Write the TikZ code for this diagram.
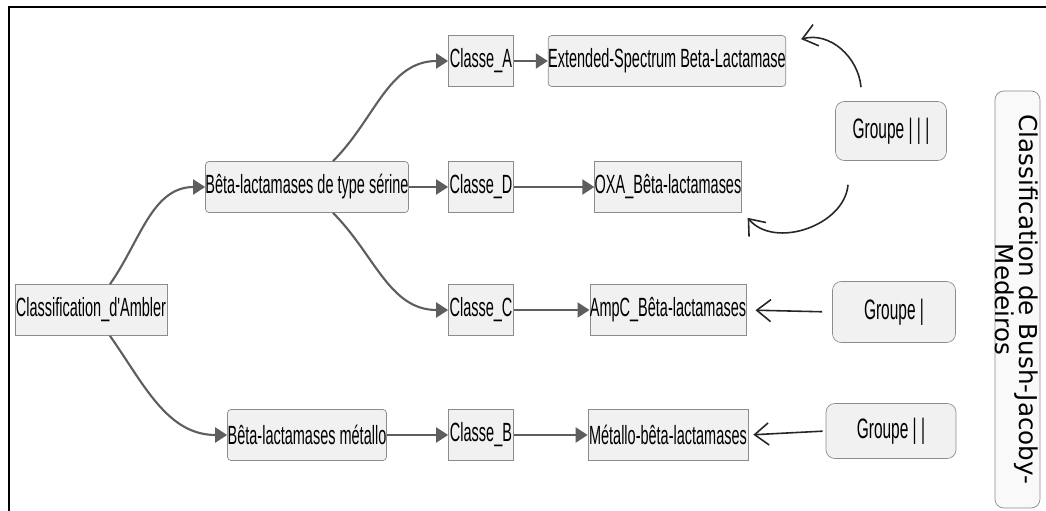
\documentclass[tikz,border=0pt]{standalone}
\usepackage{fontspec}
\setmainfont{Liberation Sans}[FakeStretch=0.55, Ligatures=TeXOff]
\newfontfamily\bjmfont{DejaVu Sans}[Ligatures=TeXOff]
\usepackage{tikz}
\usetikzlibrary{arrows.meta}
\definecolor{boxfill}{HTML}{F1F1F1}
\definecolor{boxline}{HTML}{8C8C8C}
\definecolor{arrowgray}{HTML}{5E5E5E}

\begin{document}
\begin{tikzpicture}[x=0.02cm, y=0.02cm,
            box/.style={draw=boxline, fill=boxfill, rectangle, minimum height=1.02cm, inner xsep=0pt, font=\fontsize{15}{17}\selectfont},
            rbox/.style={box, rounded corners=2pt},
            grp/.style={box, rounded corners=5pt, font=\fontsize{16}{18}\selectfont},
            flow/.style={-{Triangle[length=0.24cm, width=0.3cm]}, draw=arrowgray, line width=1.2pt},
            hint/.style={-{Straight Barb[length=0.28cm, width=0.44cm]}, draw=black!85, line width=0.9pt}]
            \useasboundingbox (0,0) rectangle (1046,-511);
            \draw[line width=0.04cm] (1046,-7) -- (9,-7) -- (9,-511);

            % Ambler
            \node[box, minimum width=3.04cm] (ambler) at (91,-310) {Classification\_d'Ambler};
            \node[rbox, minimum width=4cm] (serine) at (307,-187) {Bêta-lactamases de type sérine};
            \node[rbox, minimum width=3.18cm] (metallo) at (307,-435) {Bêta-lactamases métallo};

            \node[box, minimum width=1.3cm] (classA) at (481,-61) {Classe\_A};
            \node[box, minimum width=1.3cm] (classD) at (481,-187) {Classe\_D};
            \node[box, minimum width=1.3cm] (classC) at (481,-310) {Classe\_C};
            \node[box, minimum width=1.3cm] (classB) at (481,-435) {Classe\_B};

            \node[rbox, minimum width=4.58cm] (esbl) at (667,-61) {Extended-Spectrum Beta-Lactamase};
            \node[box, minimum width=2.8cm] (oxa) at (668,-187) {OXA\_Bêta-lactamases};
            \node[box, minimum width=3.04cm] (ampc) at (668,-310) {AmpC\_Bêta-lactamases};
            \node[box, minimum width=3.2cm] (mbl) at (668,-435) {Métallo-bêta-lactamases};

            % Bush-Jacoby-Medeiros
            \node[grp, minimum width=2.22cm, minimum height=1.18cm] (g3) at (891,-131) {Groupe |\kern2.5pt|\kern2.5pt|};
            \node[grp, minimum width=2.46cm, minimum height=1.22cm] (g1) at (894,-312) {Groupe |};
            \node[grp, minimum width=2.6cm, minimum height=1.1cm] (g2) at (891,-431) {Groupe |\kern2.5pt|};
            \node[draw=boxline, fill=boxfill!40, rounded corners=5pt, rotate=-90, align=center,
                  minimum width=8.34cm, minimum height=0.9cm, inner sep=0pt, text height=0.9cm, text depth=0pt,
                  font=\bjmfont\fontsize{14}{14}\selectfont] (bjm) at (1017.5,-299.5)
                  {Classification de Bush-Jacoby-\\Medeiros};

            \draw[flow] ([xshift=0.38cm]ambler.north) to[out=55, in=180] (serine.west);
            \draw[flow] ([xshift=0.38cm]ambler.south) to[out=-55, in=180] (metallo.west);
            \draw[flow] ([xshift=0.52cm]serine.north) to[out=45, in=180] (classA.west);
            \draw[flow] ([xshift=0.52cm]serine.south) to[out=-45, in=180] (classC.west);
            \draw[flow] (serine) -- (classD);
            \draw[flow] (metallo) -- (classB);
            \draw[flow] (classA) -- (esbl);
            \draw[flow] (classD) -- (oxa);
            \draw[flow] (classC) -- (ampc);
            \draw[flow] (classB) -- (mbl);

            \draw[hint] ([xshift=-0.6cm, yshift=0.28cm]g3.north) to[out=95, in=15] ([xshift=0.3cm, yshift=-0.08cm]esbl.north east);
            \draw[hint] ([xshift=-0.86cm, yshift=-0.48cm]g3.south) to[out=-95, in=-50] ([xshift=0.12cm, yshift=-0.1cm]oxa.south east);
            \draw[hint, shorten <=0.2cm, shorten >=0.18cm] (g1.west) -- (ampc.east);
            \draw[hint, shorten <=0.06cm, shorten >=0.1cm] (g2.west) -- (mbl.east);
\end{tikzpicture}
\end{document}
